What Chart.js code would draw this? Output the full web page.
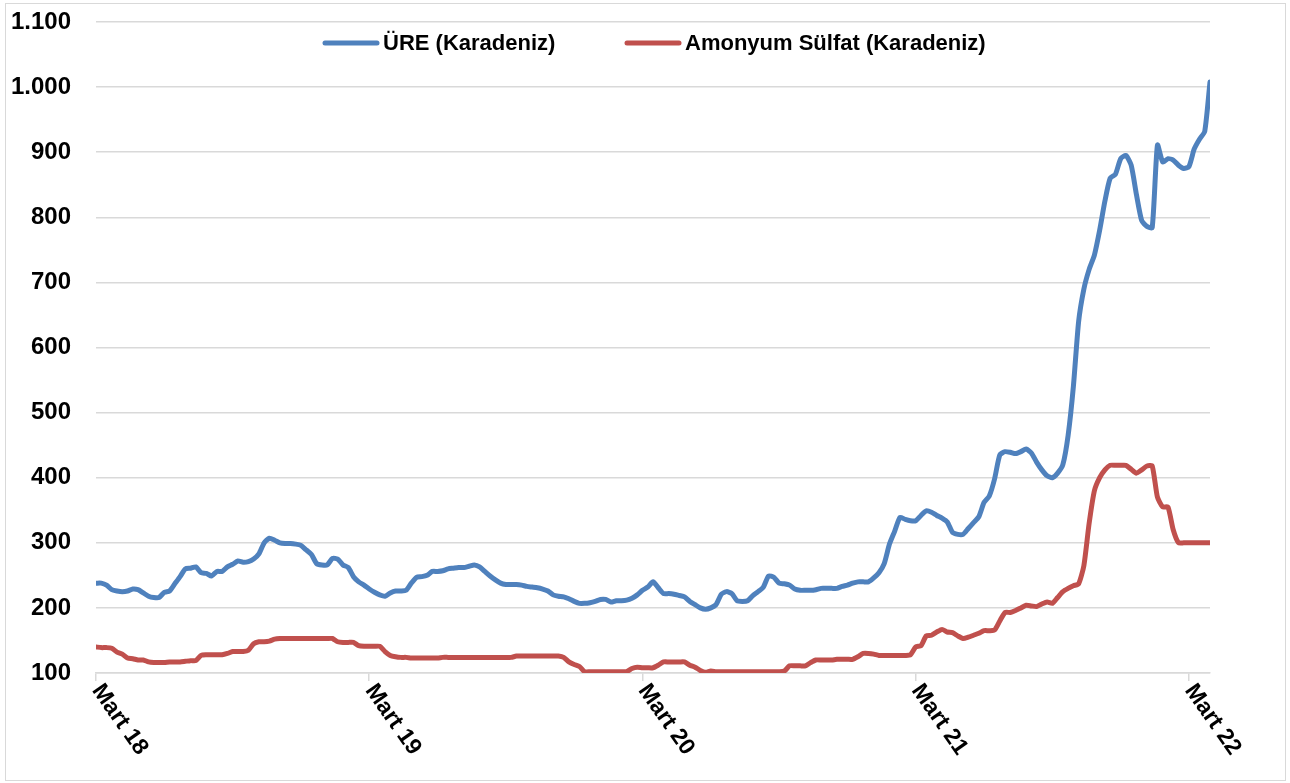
<!DOCTYPE html>
<html>
<head>
<meta charset="utf-8">
<script src="https://cdn.jsdelivr.net/npm/chart.js@4.4.1/dist/chart.umd.min.js"></script>
<style>
html,body{margin:0;padding:0;background:#fff;}
#wrap{position:relative;width:1290px;height:783px;}
#c{position:absolute;left:0;top:0;}
#frame{position:absolute;left:5px;top:3px;width:1279px;height:776px;border:1px solid #d9d9d9;pointer-events:none;}
</style>
</head>
<body>
<div id="wrap"><canvas id="c" width="1290" height="783"></canvas><div id="frame"></div></div>
<script>
// x-axis tick labels and the week index at which each falls
const tickLabels = ['Mart 18','Mart 19','Mart 20','Mart 21','Mart 22'];
const tickWeeks = [0, 52, 104, 156, 208];

// series names
const seriesNames = ['ÜRE (Karadeniz)', 'Amonyum Sülfat (Karadeniz)'];

// weekly values, starting March 2018
const ure = [
238,238,235,228,226,225,226,229,228,223,
218,216,216,224,226,237,248,260,261,263,
254,253,249,256,256,263,267,272,270,271,
275,283,300,307,304,300,299,299,298,296,
289,282,268,266,266,276,275,266,262,248,
240,235,229,
224,220,218,223,226,226,227,238,247,248,
250,256,256,257,260,261,262,262,264,266,
263,256,249,243,238,236,236,236,235,233,
232,231,229,226,220,218,217,214,210,207,
207,208,210,213,213,209,211,211,212,215,
220,227,
232,240,231,222,222,221,219,217,210,205,
200,198,200,205,221,225,222,211,210,211,
219,225,232,249,247,238,237,235,229,227,
227,227,228,230,230,230,230,233,235,238,
240,240,240,246,254,268,298,318,339,336,
334,334,
342,349,347,342,338,332,316,313,313,322,
331,340,362,372,398,435,440,439,437,440,
444,438,424,412,403,400,407,420,465,540,
640,690,720,742,780,825,860,866,890,895,
880,835,795,786,784,911,885,890,888,880,
875,878,905,920,932,1008
];

const amonyum = [
140,139,139,138,132,129,123,122,120,120,
117,116,116,116,117,117,117,118,119,119,
127,128,128,128,128,130,133,133,133,135,
145,148,148,149,152,153,153,153,153,153,
153,153,153,153,153,153,148,147,147,147,
142,141,141,
141,141,133,127,125,124,124,123,123,123,
123,123,123,124,124,124,124,124,124,124,
124,124,124,124,124,124,124,126,126,126,
126,126,126,126,126,126,124,117,113,110,
102,102,102,102,102,102,102,102,102,107,
109,108,
108,108,112,117,117,117,117,117,112,109,
104,101,103,102,102,102,102,102,102,102,
102,102,102,102,102,102,103,111,111,111,
111,116,120,120,120,120,121,121,121,121,
125,130,130,129,127,127,127,127,127,127,
128,140,
142,157,158,163,167,163,162,157,153,155,
158,161,165,165,166,180,193,193,196,200,
204,203,202,206,209,207,216,225,230,234,
237,265,330,380,400,412,419,419,419,419,
413,407,412,418,418,370,355,355,320,300,
300,300,300,300,300,300
];

const yTicks = [100,200,300,400,500,600,700,800,900,1000,1100];

const BLUE = '#4F81BD';
const RED = '#C0504D';
const FONT = "'Liberation Sans', Arial, sans-serif";

function fmt(v){
  if (v >= 1000) return Math.floor(v/1000) + '.' + String(v % 1000).padStart(3,'0');
  return String(v);
}

const xLabelPlugin = {
  id: 'xLabels',
  afterDraw(chart){
    const ctx = chart.ctx;
    const xs = chart.scales.x;
    ctx.save();
    ctx.fillStyle = '#000';
    ctx.font = 'bold 23px ' + FONT;
    ctx.textAlign = 'left';
    ctx.textBaseline = 'top';
    tickWeeks.forEach((w, i) => {
      const px = xs.getPixelForValue(w);
      ctx.save();
      ctx.translate(px + 10, 680);
      ctx.rotate(55 * Math.PI / 180);
      ctx.fillText(tickLabels[i], 0, 0);
      ctx.restore();
    });
    ctx.restore();
  }
};

const legendPlugin = {
  id: 'topLegend',
  afterDraw(chart){
    const ctx = chart.ctx;
    const items = [
      {x0: 325, x1: 377, tx: 383},
      {x0: 627, x1: 679, tx: 685}
    ];
    ctx.save();
    ctx.font = 'bold 22px ' + FONT;
    ctx.textBaseline = 'middle';
    ctx.textAlign = 'left';
    chart.data.datasets.forEach((ds, i) => {
      const it = items[i];
      ctx.strokeStyle = ds.borderColor;
      ctx.lineWidth = 5;
      ctx.lineCap = 'round';
      ctx.beginPath();
      ctx.moveTo(it.x0, 43);
      ctx.lineTo(it.x1, 43);
      ctx.stroke();
      ctx.fillStyle = '#000';
      ctx.fillText(ds.label, it.tx, 44);
    });
    ctx.restore();
  }
};

new Chart(document.getElementById('c'), {
  type: 'line',
  data: {
    datasets: [
      {
        label: seriesNames[0],
        data: ure.map((v, i) => ({x: i, y: v})),
        borderColor: BLUE,
        borderWidth: 5,
        pointRadius: 0,
        tension: 0.2,
        borderJoinStyle: 'round',
        borderCapStyle: 'round',
        fill: false
      },
      {
        label: seriesNames[1],
        data: amonyum.map((v, i) => ({x: i, y: v})),
        borderColor: RED,
        borderWidth: 5,
        pointRadius: 0,
        tension: 0.2,
        borderJoinStyle: 'round',
        borderCapStyle: 'round',
        fill: false
      }
    ]
  },
  options: {
    responsive: false,
    animation: false,
    devicePixelRatio: 1,
    layout: {padding: {left: 0, right: 80, top: 22, bottom: 0}},
    plugins: {
      legend: {display: false},
      tooltip: {enabled: false}
    },
    scales: {
      x: {
        type: 'linear',
        min: 0,
        max: ure.length - 1,
        afterBuildTicks: s => { s.ticks = tickWeeks.map(v => ({value: v})); },
        afterFit: s => { s.height = 110; s.paddingLeft = 0; s.paddingRight = 0; },
        ticks: {display: false},
        grid: {
          drawOnChartArea: false,
          drawTicks: true,
          tickLength: 8,
          color: '#d9d9d9',
          lineWidth: 1.5
        },
        border: {display: true, color: '#d9d9d9', width: 1.5}
      },
      y: {
        min: yTicks[0],
        max: yTicks[yTicks.length - 1],
        afterBuildTicks: s => { s.ticks = yTicks.map(v => ({value: v})); },
        afterFit: s => { s.width = 96; s.paddingTop = 0; s.paddingBottom = 0; },
        ticks: {
          callback: v => fmt(v),
          font: {family: FONT, size: 24, weight: 'bold'},
          color: '#000',
          padding: 25
        },
        grid: {
          color: '#d9d9d9',
          lineWidth: 1.5,
          drawTicks: false
        },
        border: {display: false}
      }
    }
  },
  plugins: [xLabelPlugin, legendPlugin]
});
</script>
</body>
</html>
